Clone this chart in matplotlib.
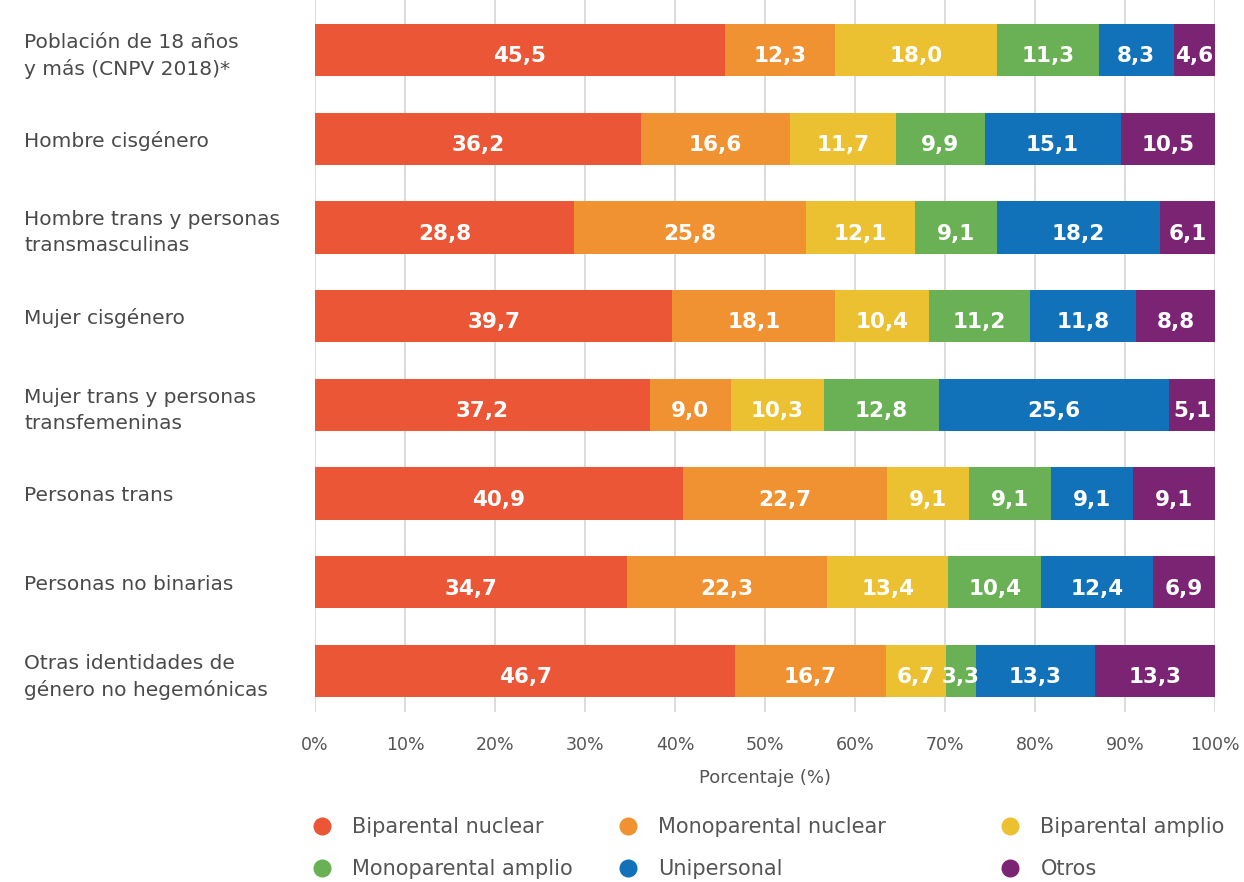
import numpy as np
import matplotlib.pyplot as plt
from matplotlib.lines import Line2D

# Data
categorias = [
    "Población de 18 años\ny más (CNPV 2018)*",
    "Hombre cisgénero",
    "Hombre trans y personas\ntransmasculinas",
    "Mujer cisgénero",
    "Mujer trans y personas\ntransfemeninas",
    "Personas trans",
    "Personas no binarias",
    "Otras identidades de\ngénero no hegemónicas",
]
series = ["Biparental nuclear", "Monoparental nuclear", "Biparental amplio",
          "Monoparental amplio", "Unipersonal", "Otros"]
biparental_nuclear = [45.5, 36.2, 28.8, 39.7, 37.2, 40.9, 34.7, 46.7]
monoparental_nuclear = [12.3, 16.6, 25.8, 18.1, 9.0, 22.7, 22.3, 16.7]
biparental_amplio = [18.0, 11.7, 12.1, 10.4, 10.3, 9.1, 13.4, 6.7]
monoparental_amplio = [11.3, 9.9, 9.1, 11.2, 12.8, 9.1, 10.4, 3.3]
unipersonal = [8.3, 15.1, 18.2, 11.8, 25.6, 9.1, 12.4, 13.3]
otros = [4.6, 10.5, 6.1, 8.8, 5.1, 9.1, 6.9, 13.3]
valores = [biparental_nuclear, monoparental_nuclear, biparental_amplio,
           monoparental_amplio, unipersonal, otros]
colores = ["#EB5636", "#F09132", "#EBC132", "#6AB155", "#1172BA", "#7B2473"]
xticks = np.arange(0, 101, 10)

plt.rcParams['font.family'] = ['DejaVu Sans']
gris = "#555555"

fig = plt.figure(figsize=(12.44, 8.82), dpi=100)
ax = fig.add_axes([315 / 1244, 1 - 712 / 882, 900 / 1244, 712 / 882])

y = np.arange(len(categorias))
izq = np.zeros(len(categorias))
totales = np.sum(valores, axis=0)
for vals, col in zip(valores, colores):
    vals = np.array(vals)
    # normalise to 100 so each row fills the axis
    w = vals / totales * 100
    ax.barh(y, w, left=izq, height=0.59, color=col, zorder=3)
    for yi, l, wi, v in zip(y, izq, w, vals):
        ax.text(l + wi / 2, yi + 0.07, f"{v:.1f}".replace(".", ","), ha="center",
                va="center", color="white", fontsize=15.5, fontweight="bold",
                zorder=4)
    izq += w

ax.set_ylim(7.462, -0.564)
ax.set_xlim(0, 100)
ax.set_xticks(xticks)
ax.set_xticklabels([f"{t}%" for t in xticks], fontsize=12.5, color=gris,
                   fontweight=300)
ax.tick_params(axis="x", length=0, pad=17)
ax.set_yticks(y)
ax.set_yticklabels(categorias, fontsize=14.5, color="#4a4a4a", linespacing=1.45,
                   fontweight=300)
ax.tick_params(axis="y", length=0, pad=209.5)
for lab in ax.get_yticklabels():
    lab.set_ha("left")
ax.grid(axis="x", color="#d9d9d9", linewidth=1.3, zorder=0)
for s in ax.spines.values():
    s.set_visible(False)
ax.set_xlabel("Porcentaje (%)", fontsize=13, color=gris, labelpad=11,
              fontweight=300)

# legend: three columns
posiciones = [(0.2355, 0.0828), (0.4815, 0.0828), (0.7886, 0.0828)]
for c, (px, py) in enumerate(posiciones):
    handles = [Line2D([], [], marker="o", linestyle="", markersize=13,
                      markerfacecolor=colores[c + 3 * r], markeredgewidth=0)
               for r in range(2)]
    labels = [series[c + 3 * r] for r in range(2)]
    leg = fig.legend(handles, labels, loc="upper left", bbox_to_anchor=(px, py),
                     frameon=False, fontsize=15, labelcolor=gris,
                     handletextpad=0.45, labelspacing=1.06, borderaxespad=0)
    for t in leg.get_texts():
        t.set_fontweight(300)

fig.savefig("out.png", dpi=100)
